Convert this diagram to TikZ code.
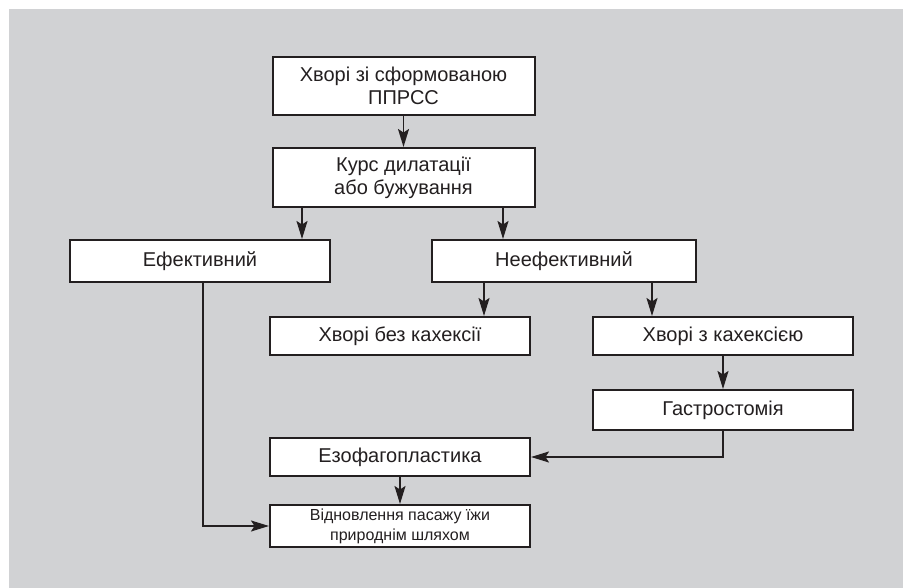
\documentclass[tikz,border=0pt]{standalone}
\usepackage{fontspec}
\setmainfont{Liberation Sans}
\usetikzlibrary{arrows.meta}
\definecolor{bg}{HTML}{D1D2D4}
\definecolor{ink}{HTML}{231F20}
\tikzset{
  box/.style={draw=ink, line width=2pt, fill=white, minimum width=260pt, inner sep=0pt, align=center, font=\fontsize{20}{23}\selectfont, text=ink},
  arr/.style={draw=ink, line width=1.7pt, -{Stealth[length=18pt,width=11pt,inset=3.5pt]}}
}
\begin{document}
\begin{tikzpicture}[x=1pt,y=-1pt]
\fill[white] (0,0) rectangle (903,588);
\fill[bg] (9,9) rectangle (903,588);
\useasboundingbox (0,0) rectangle (903,588);
\node[box, minimum width=262pt, minimum height=58pt] (b1) at (403.5,86) {Хворі зі сформованою\\ППРСС};
\node[box, minimum width=262pt, minimum height=59pt] (b2) at (403.5,177.5) {Курс дилатації\\або бужування};
\node[box, minimum height=42pt] (ef) at (200,261) {Ефективний};
\node[box, minimum width=264pt, minimum height=42pt] (nef) at (564,261) {Неефективний};
\node[box, minimum height=38pt] (bez) at (400,336) {Хворі без кахексії};
\node[box, minimum height=38pt] (zk) at (723,336) {Хворі з кахексією};
\node[box, minimum height=40pt] (gas) at (723,410) {Гастростомія};
\node[box, minimum height=38pt] (ezo) at (400,457) {Езофагопластика};
\node[box, minimum height=42pt, font=\fontsize{16}{20}\selectfont] (vid) at (400,526) {Відновлення пасажу їжи\\природнім шляхом};
\draw[arr] (b1) -- (b2);
\draw[arr] ([xshift=-101.5pt]b2.south) -- ([xshift=-101.5pt]b2.south |- ef.north);
\draw[arr] ([xshift=99.5pt]b2.south) -- ([xshift=99.5pt]b2.south |- nef.north);
\draw[arr] ([xshift=-80pt]nef.south) -- ([xshift=-80pt]nef.south |- bez.north);
\draw[arr] ([xshift=88pt]nef.south) -- ([xshift=88pt]nef.south |- zk.north);
\draw[arr] (zk) -- (gas);
\draw[arr] (gas.south) |- (ezo.east);
\draw[arr] (ezo) -- (vid);
\draw[arr] ([xshift=3pt]ef.south) |- (vid.west);
\end{tikzpicture}
\end{document}
